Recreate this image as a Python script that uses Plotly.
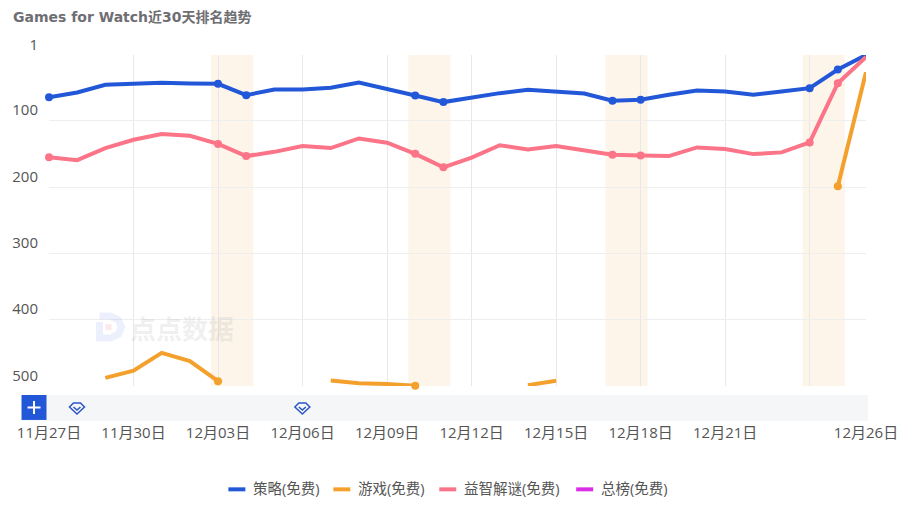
import pandas as pd
import plotly.graph_objects as go

days = pd.date_range("2024-11-27", periods=30, freq="D")

strategy = [64.6, 57.5, 46, 44.4, 43, 44, 44.4, 61.5, 53, 53, 50.4, 42.4, 51.5, 62, 72,
            64.5, 58.5, 53.5, 56, 59, 70, 68.5, 61, 54.5, 56, 61, 56, 51, 23, 1]
games = [None, None, 487.7, 477, 450, 462.6, 492.7, None, None, None, 491.7, 495.7, 497, 499.8, None,
         None, None, 498.7, 492.2, None, None, None, None, None, None, None, None, None, 199, 27]
puzzle = [155, 159.5, 141.3, 128.7, 120, 122.7, 135, 153.4, 147, 138.3, 141.3, 126.8, 133.3, 150, 170.4,
          155.8, 137, 143.3, 138.3, 144.8, 151.4, 152.4, 153.4, 140.3, 142.8, 150.4, 147.8, 132.8, 43.5, 4]
overall = [None] * 30

series_names = ["策略(免费)", "游戏(免费)", "益智解谜(免费)", "总榜(免费)"]
series_values = [strategy, games, puzzle, overall]
series_colors = ["#2257d8", "#f4a02c", "#fb7488", "#d92fe8"]

y_ticks = [1, 100, 200, 300, 400, 500]
x_tick_days = ["2024-11-27", "2024-11-30", "2024-12-03", "2024-12-06", "2024-12-09", "2024-12-12",
               "2024-12-15", "2024-12-18", "2024-12-21", "2024-12-24", "2024-12-26"]
x_tick_labels = ["11月27日", "11月30日", "12月03日", "12月06日", "12月09日", "12月12日",
                 "12月15日", "12月18日", "12月21日", "", "12月26日"]

# weekends get a dot on the line and a shaded band
weekend_starts = ["2024-12-03", "2024-12-10", "2024-12-17", "2024-12-24"]
dotted_days = ["2024-11-27", "2024-12-03", "2024-12-04", "2024-12-10", "2024-12-11",
               "2024-12-17", "2024-12-18", "2024-12-24", "2024-12-25"]

W, H = 907, 510
L, R, T, B = 48.5, 866, 54.5, 386


# paper coordinates run over the plot area, so convert from page pixels
def px_x(v):
    return (v - L) / (R - L)


def px_y(v):
    return (B - v) / (B - T)


def px_path(points, close=False):
    parts = []
    for i, (x, y) in enumerate(points):
        parts.append(f"{'M' if i == 0 else 'L'} {px_x(x)} {px_y(y)}")
    return " ".join(parts) + (" Z" if close else "")


fig = go.Figure()

for name, values, color in zip(series_names, series_values, series_colors):
    fig.add_trace(go.Scatter(
        x=days, y=values, name=name, mode="lines", showlegend=False,
        line=dict(color=color, width=4),
        connectgaps=False, cliponaxis=False,
    ))
    dots = [v if d.strftime("%Y-%m-%d") in dotted_days else None for d, v in zip(days, values)]
    fig.add_trace(go.Scatter(
        x=days, y=dots, mode="markers", showlegend=False, hoverinfo="skip",
        marker=dict(color=color, size=8), cliponaxis=False,
    ))

for start in weekend_starts:
    s = pd.Timestamp(start)
    fig.add_shape(
        type="rect", xref="x", yref="paper", layer="below", line_width=0,
        x0=s - pd.Timedelta(hours=6), x1=s + pd.Timedelta(hours=30), y0=0, y1=1,
        fillcolor="rgba(250,232,208,0.45)",
    )

# navigator strip under the plot, with the add button and the two event icons
fig.add_shape(type="rect", xref="paper", yref="paper", line_width=0, fillcolor="#f5f6f8",
              x0=px_x(21), x1=px_x(868), y0=px_y(421), y1=px_y(395))
fig.add_shape(type="rect", xref="paper", yref="paper", line_width=0, fillcolor="#2257d8",
              x0=px_x(21), x1=px_x(46), y0=px_y(420), y1=px_y(395))
fig.add_shape(type="path", xref="paper", yref="paper", line=dict(color="white", width=2),
              path=px_path([(27, 407.5), (40, 407.5)]) + " " + px_path([(33.5, 401), (33.5, 414)]))
for cx in [76.5, 302]:
    fig.add_shape(type="path", xref="paper", yref="paper", line=dict(color="#2a56c6", width=1.5),
                  path=px_path([(cx - 7.5, 407), (cx - 3.5, 403), (cx + 3.5, 403), (cx + 7.5, 407), (cx, 414)], close=True))
    fig.add_shape(type="path", xref="paper", yref="paper", line=dict(color="#2a56c6", width=1.5),
                  path=px_path([(cx - 3.5, 407), (cx, 410), (cx + 3.5, 407)]))

# watermark
fig.add_shape(type="path", xref="paper", yref="paper", line=dict(color="rgba(90,130,230,0.12)", width=7),
              path=px_path([(99, 316), (110, 316), (118, 320), (121, 327), (118, 334), (110, 338), (99, 338), (99, 322)]))
fig.add_shape(type="rect", xref="paper", yref="paper", line_width=0, fillcolor="rgba(240,110,120,0.15)",
              x0=px_x(105), x1=px_x(111), y0=px_y(330), y1=px_y(324))
fig.add_annotation(text="<b>点点数据</b>", xref="paper", yref="paper", x=px_x(182), y=px_y(327), showarrow=False,
                   xanchor="center", yanchor="middle",
                   font=dict(size=26, color="rgba(140,140,140,0.15)", family="Noto Sans CJK SC"))

# legend drawn by hand: plotly's own swatches are fixed at 30px
legend_swatch_x = [228, 333, 439, 576]
for name, color, sx in zip(series_names, series_colors, legend_swatch_x):
    fig.add_shape(type="line", xref="paper", yref="paper", line=dict(color=color, width=4),
                  x0=px_x(sx), x1=px_x(sx + 17), y0=px_y(489.5), y1=px_y(489.5))
    fig.add_annotation(text=name, xref="paper", yref="paper", x=px_x(sx + 23), y=px_y(489),
                       xanchor="left", yanchor="middle",
                       showarrow=False, font=dict(size=14.5, color="#555555"))

fig.update_layout(
    width=W,
    height=H,
    margin=dict(l=L, r=W - R, t=T, b=H - B, pad=0, autoexpand=False),
    paper_bgcolor="white",
    plot_bgcolor="white",
    font=dict(family="Open Sans, Noto Sans CJK SC, sans-serif", color="#555555", size=14),
    title=dict(
        text="<b>Games for Watch近30天排名趋势</b>",
        font=dict(size=14, color="#6e6e73", family="DejaVu Sans, Noto Sans CJK SC"),
        x=13 / W, xanchor="left", y=1 - 17 / H, yanchor="middle",
    ),
    showlegend=False,
    xaxis=dict(
        type="date", range=[days[0], days[-1]], tickvals=x_tick_days, ticktext=x_tick_labels,
        showgrid=True, gridcolor="#e8e8e8", gridwidth=1, zeroline=False, showline=False,
        ticks="", ticklen=0, tickfont=dict(size=15, color="#555555"), tickangle=0,
        ticklabelstandoff=36,
    ),
    yaxis=dict(
        range=[500, 1], tickvals=y_ticks, showgrid=True, gridcolor="#eeeeee", gridwidth=1,
        zeroline=False, showline=False, ticks="", ticklabelposition="outside top",
        ticklabelstandoff=10, tickfont=dict(size=15, color="#555555"),
    ),
)

fig.write_html("out.html", config=dict(displayModeBar=False), post_script="document.body.style.margin='0'")
